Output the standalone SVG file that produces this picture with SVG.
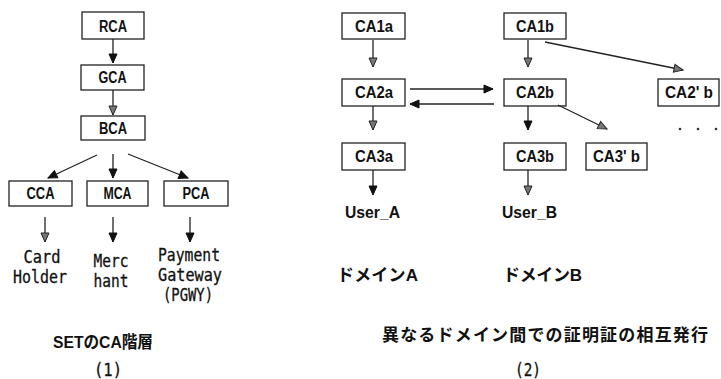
<svg xmlns="http://www.w3.org/2000/svg" width="721" height="379" viewBox="0 0 721 379">
  <style>
    .box { fill: #fff; stroke: #222; stroke-width: 1.3; }
    .lbl { font-family: "Liberation Sans", "DejaVu Sans", sans-serif; font-size: 16px; font-weight: bold; fill: #111; text-anchor: middle; }
    .mono { font-family: "DejaVu Sans Mono", "Liberation Mono", monospace; font-size: 17px; fill: #111; text-anchor: middle; stroke: #111; stroke-width: 0.3; }
    .jp { font-family: "Liberation Sans", "Noto Sans CJK JP", sans-serif; font-size: 17px; font-weight: bold; fill: #111; }
    .edge { stroke: #222; stroke-width: 1.3; fill: none; }
    .g { marker-end: url(#hg); }
    .k { marker-end: url(#hk); }
  </style>
  <defs>
    <marker id="hg" markerUnits="userSpaceOnUse" markerWidth="12" markerHeight="12" viewBox="-10 -5 12 10" refX="0" refY="0" orient="auto">
      <path d="M-9,-4 L0,0 L-9,4 Z" fill="#777" stroke="#222" stroke-width="1"/>
    </marker>
    <marker id="hk" markerUnits="userSpaceOnUse" markerWidth="12" markerHeight="12" viewBox="-10 -5 12 10" refX="0" refY="0" orient="auto">
      <path d="M-9,-4 L0,0 L-9,4 Z" fill="#111" stroke="#111" stroke-width="1"/>
    </marker>
  </defs>
  <rect width="721" height="379" fill="#fff"/>

  <!-- SET CA hierarchy -->
  <g id="RCA"><rect class="box" x="82" y="12" width="62" height="27"/><text class="lbl" x="113" y="32" textLength="28" lengthAdjust="spacingAndGlyphs">RCA</text></g>
  <g id="GCA"><rect class="box" x="81" y="65" width="63" height="25"/><text class="lbl" x="112.5" y="83" textLength="28" lengthAdjust="spacingAndGlyphs">GCA</text></g>
  <g id="BCA"><rect class="box" x="81" y="116" width="64" height="24"/><text class="lbl" x="113" y="134" textLength="28" lengthAdjust="spacingAndGlyphs">BCA</text></g>
  <g id="CCA"><rect class="box" x="9" y="181" width="63" height="25"/><text class="lbl" x="40.5" y="199" textLength="28" lengthAdjust="spacingAndGlyphs">CCA</text></g>
  <g id="MCA"><rect class="box" x="87" y="181" width="61" height="25"/><text class="lbl" x="117.5" y="199" textLength="28" lengthAdjust="spacingAndGlyphs">MCA</text></g>
  <g id="PCA"><rect class="box" x="164" y="181" width="64" height="25"/><text class="lbl" x="196" y="199" textLength="27" lengthAdjust="spacingAndGlyphs">PCA</text></g>

  <g id="CardHolder">
    <text class="mono" x="42" y="263" textLength="37" lengthAdjust="spacingAndGlyphs">Card</text>
    <text class="mono" x="40" y="283" textLength="54" lengthAdjust="spacingAndGlyphs">Holder</text>
  </g>
  <g id="Merchant">
    <text class="mono" x="111" y="267" textLength="35" lengthAdjust="spacingAndGlyphs">Merc</text>
    <text class="mono" x="111" y="287" textLength="35" lengthAdjust="spacingAndGlyphs">hant</text>
  </g>
  <g id="PaymentGateway">
    <text class="mono" x="189" y="261" textLength="62" lengthAdjust="spacingAndGlyphs">Payment</text>
    <text class="mono" x="190" y="281" textLength="64" lengthAdjust="spacingAndGlyphs">Gateway</text>
    <text class="mono" x="188" y="301" textLength="50" lengthAdjust="spacingAndGlyphs">(PGWY)</text>
  </g>

  <text class="jp" x="53" y="348" font-size="18" textLength="100" lengthAdjust="spacingAndGlyphs">SETのCA階層</text>
  <text class="mono" x="108" y="376" textLength="28" lengthAdjust="spacingAndGlyphs">(1)</text>

  <!-- cross certification between domains -->
  <g id="CA1a"><rect class="box" x="342" y="13" width="63" height="26"/><text class="lbl" x="374" y="32" textLength="38" lengthAdjust="spacingAndGlyphs">CA1a</text></g>
  <g id="CA2a"><rect class="box" x="342" y="79" width="63" height="27"/><text class="lbl" x="374" y="98" textLength="38" lengthAdjust="spacingAndGlyphs">CA2a</text></g>
  <g id="CA3a"><rect class="box" x="342" y="143" width="63" height="27"/><text class="lbl" x="374" y="162" textLength="38" lengthAdjust="spacingAndGlyphs">CA3a</text></g>
  <g id="CA1b"><rect class="box" x="504" y="13" width="62" height="26"/><text class="lbl" x="535" y="32" textLength="38" lengthAdjust="spacingAndGlyphs">CA1b</text></g>
  <g id="CA2b"><rect class="box" x="504" y="79" width="62" height="27"/><text class="lbl" x="535" y="98" textLength="38" lengthAdjust="spacingAndGlyphs">CA2b</text></g>
  <g id="CA3b"><rect class="box" x="504" y="143" width="62" height="27"/><text class="lbl" x="535" y="162" textLength="38" lengthAdjust="spacingAndGlyphs">CA3b</text></g>
  <g id="CA3pb"><rect class="box" x="586" y="143" width="61" height="27"/><text class="lbl" x="616.5" y="162" textLength="47" lengthAdjust="spacingAndGlyphs">CA3' b</text></g>
  <g id="CA2pb"><rect class="box" x="658" y="79" width="61" height="27"/><text class="lbl" x="689" y="98" textLength="48" lengthAdjust="spacingAndGlyphs">CA2' b</text></g>

  <g id="UserA"><text class="lbl" x="372.5" y="218" font-size="17" textLength="55" lengthAdjust="spacingAndGlyphs">User_A</text></g>
  <g id="UserB"><text class="lbl" x="529.5" y="218" font-size="17" textLength="55" lengthAdjust="spacingAndGlyphs">User_B</text></g>

  <g id="more">
    <circle cx="680" cy="129" r="1.3" fill="#333"/>
    <circle cx="698" cy="129" r="1.3" fill="#333"/>
    <circle cx="716" cy="129" r="1.3" fill="#333"/>
  </g>

  <text class="jp" x="337" y="281" font-size="16" textLength="81" lengthAdjust="spacing">ドメインA</text>
  <text class="jp" x="503" y="281" font-size="16" textLength="79" lengthAdjust="spacing">ドメインB</text>
  <text class="jp" x="382" y="341" font-size="18" textLength="326" lengthAdjust="spacing">異なるドメイン間での証明証の相互発行</text>
  <text class="mono" x="528" y="376" textLength="26" lengthAdjust="spacingAndGlyphs">(2)</text>

  <g id="connectors">
    <line class="edge k" x1="113" y1="39" x2="113" y2="63"/>
    <line class="edge g" x1="113" y1="90" x2="113" y2="115"/>
    <line class="edge k" x1="97" y1="155" x2="48" y2="178"/>
    <line class="edge k" x1="113" y1="154" x2="113" y2="178"/>
    <line class="edge k" x1="128" y1="154" x2="188" y2="178"/>
    <line class="edge g" x1="45" y1="217" x2="45" y2="242"/>
    <line class="edge k" x1="113" y1="217" x2="113" y2="242"/>
    <line class="edge k" x1="190" y1="217" x2="190" y2="242"/>

    <line class="edge g" x1="373" y1="40" x2="373" y2="67"/>
    <line class="edge g" x1="373" y1="106" x2="373" y2="130"/>
    <line class="edge k" x1="373" y1="170" x2="373" y2="195"/>
    <line class="edge g" x1="528" y1="40" x2="528" y2="67"/>
    <line class="edge k" x1="528" y1="106" x2="528" y2="130"/>
    <line class="edge g" x1="528" y1="170" x2="528" y2="195"/>
    <line class="edge k" x1="410" y1="89" x2="493" y2="89"/>
    <line class="edge k" x1="494" y1="104" x2="410" y2="104"/>
    <line class="edge g" x1="545" y1="42" x2="683" y2="70"/>
    <line class="edge g" x1="558" y1="105" x2="607" y2="129"/>
  </g>
</svg>
